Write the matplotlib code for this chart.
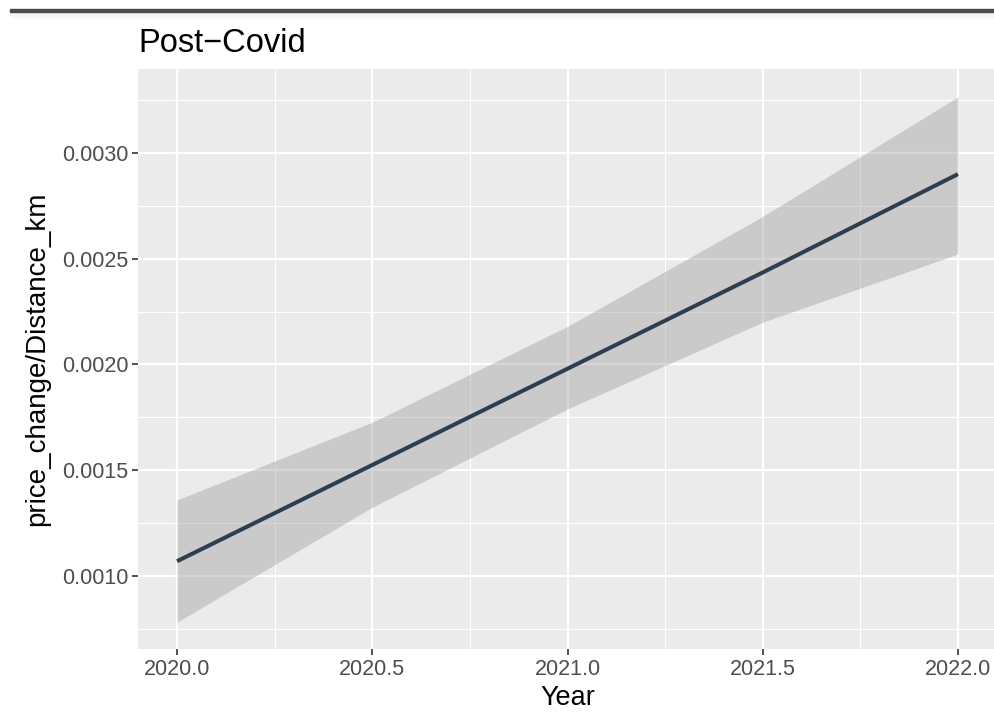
import numpy as np
import matplotlib
matplotlib.use("Agg")
import matplotlib.pyplot as plt
from matplotlib.patches import Rectangle

# values
year = [2020.0, 2020.5, 2021.0, 2021.5, 2022.0]
fit = [0.00107, 0.001525, 0.00198, 0.002435, 0.00290]
lower = [0.000782, 0.001325, 0.00179, 0.00220, 0.002522]
upper = [0.00136, 0.001727, 0.00218, 0.00270, 0.003265]

x_ticks = [2020.0, 2020.5, 2021.0, 2021.5, 2022.0]
y_ticks = [0.0010, 0.0015, 0.0020, 0.0025, 0.0030]

plt.rcParams['font.family'] = ['Liberation Sans', 'DejaVu Sans']

W, H = 995, 728
fig = plt.figure(figsize=(W / 100, H / 100), dpi=100)
ax = fig.add_axes([138 / W, 1 - 649 / H, (997 - 138) / W, (649 - 69) / H])

ax.set_facecolor('#EBEBEB')
for s in ax.spines.values():
    s.set_visible(False)

ax.fill_between(year, lower, upper, color='#999999', alpha=0.4, lw=0, zorder=2)
ax.plot(year, fit, color='#2C3E50', lw=2.9, solid_capstyle='butt', zorder=3)

ax.set_xlim(2019.9, 2022.1)
ax.set_ylim(0.000655, 0.003397)
ax.set_xticks(x_ticks)
ax.set_xticklabels([f'{v:.1f}' for v in x_ticks])
ax.set_yticks(y_ticks)
ax.set_yticklabels([f'{v:.4f}' for v in y_ticks])
ax.set_xticks([2020.25, 2020.75, 2021.25, 2021.75], minor=True)
ax.set_yticks([0.00075, 0.00125, 0.00175, 0.00225, 0.00275, 0.00325], minor=True)

ax.grid(which='major', color='white', lw=1.6, zorder=1)
ax.grid(which='minor', color='white', lw=0.8, zorder=1)
ax.set_axisbelow(True)
ax.tick_params(which='major', length=4, width=1.2, color='#333333',
               labelsize=15.5, labelcolor='#4D4D4D', pad=3)
ax.tick_params(which='minor', length=0)

ax.set_xlabel('Year', fontsize=19.5, labelpad=4)
ax.set_ylabel('price_change/Distance_km', fontsize=20, labelpad=8)
ax.set_title('Post\u2212Covid', fontsize=23.5, loc='left', pad=12)

# dark strip across the top of the screenshot
fig.patches.append(Rectangle((10 / W, 1 - 12 / H), 1, 3 / H, transform=fig.transFigure,
                             color='#4A4A4A', zorder=10))
for i in range(8):
    fig.patches.append(Rectangle((10 / W, 1 - (13 + i) / H), 1, 1 / H,
                                 transform=fig.transFigure,
                                 color='black', alpha=0.06 * (1 - i / 8), lw=0))

fig.savefig('out.png', dpi=100)
